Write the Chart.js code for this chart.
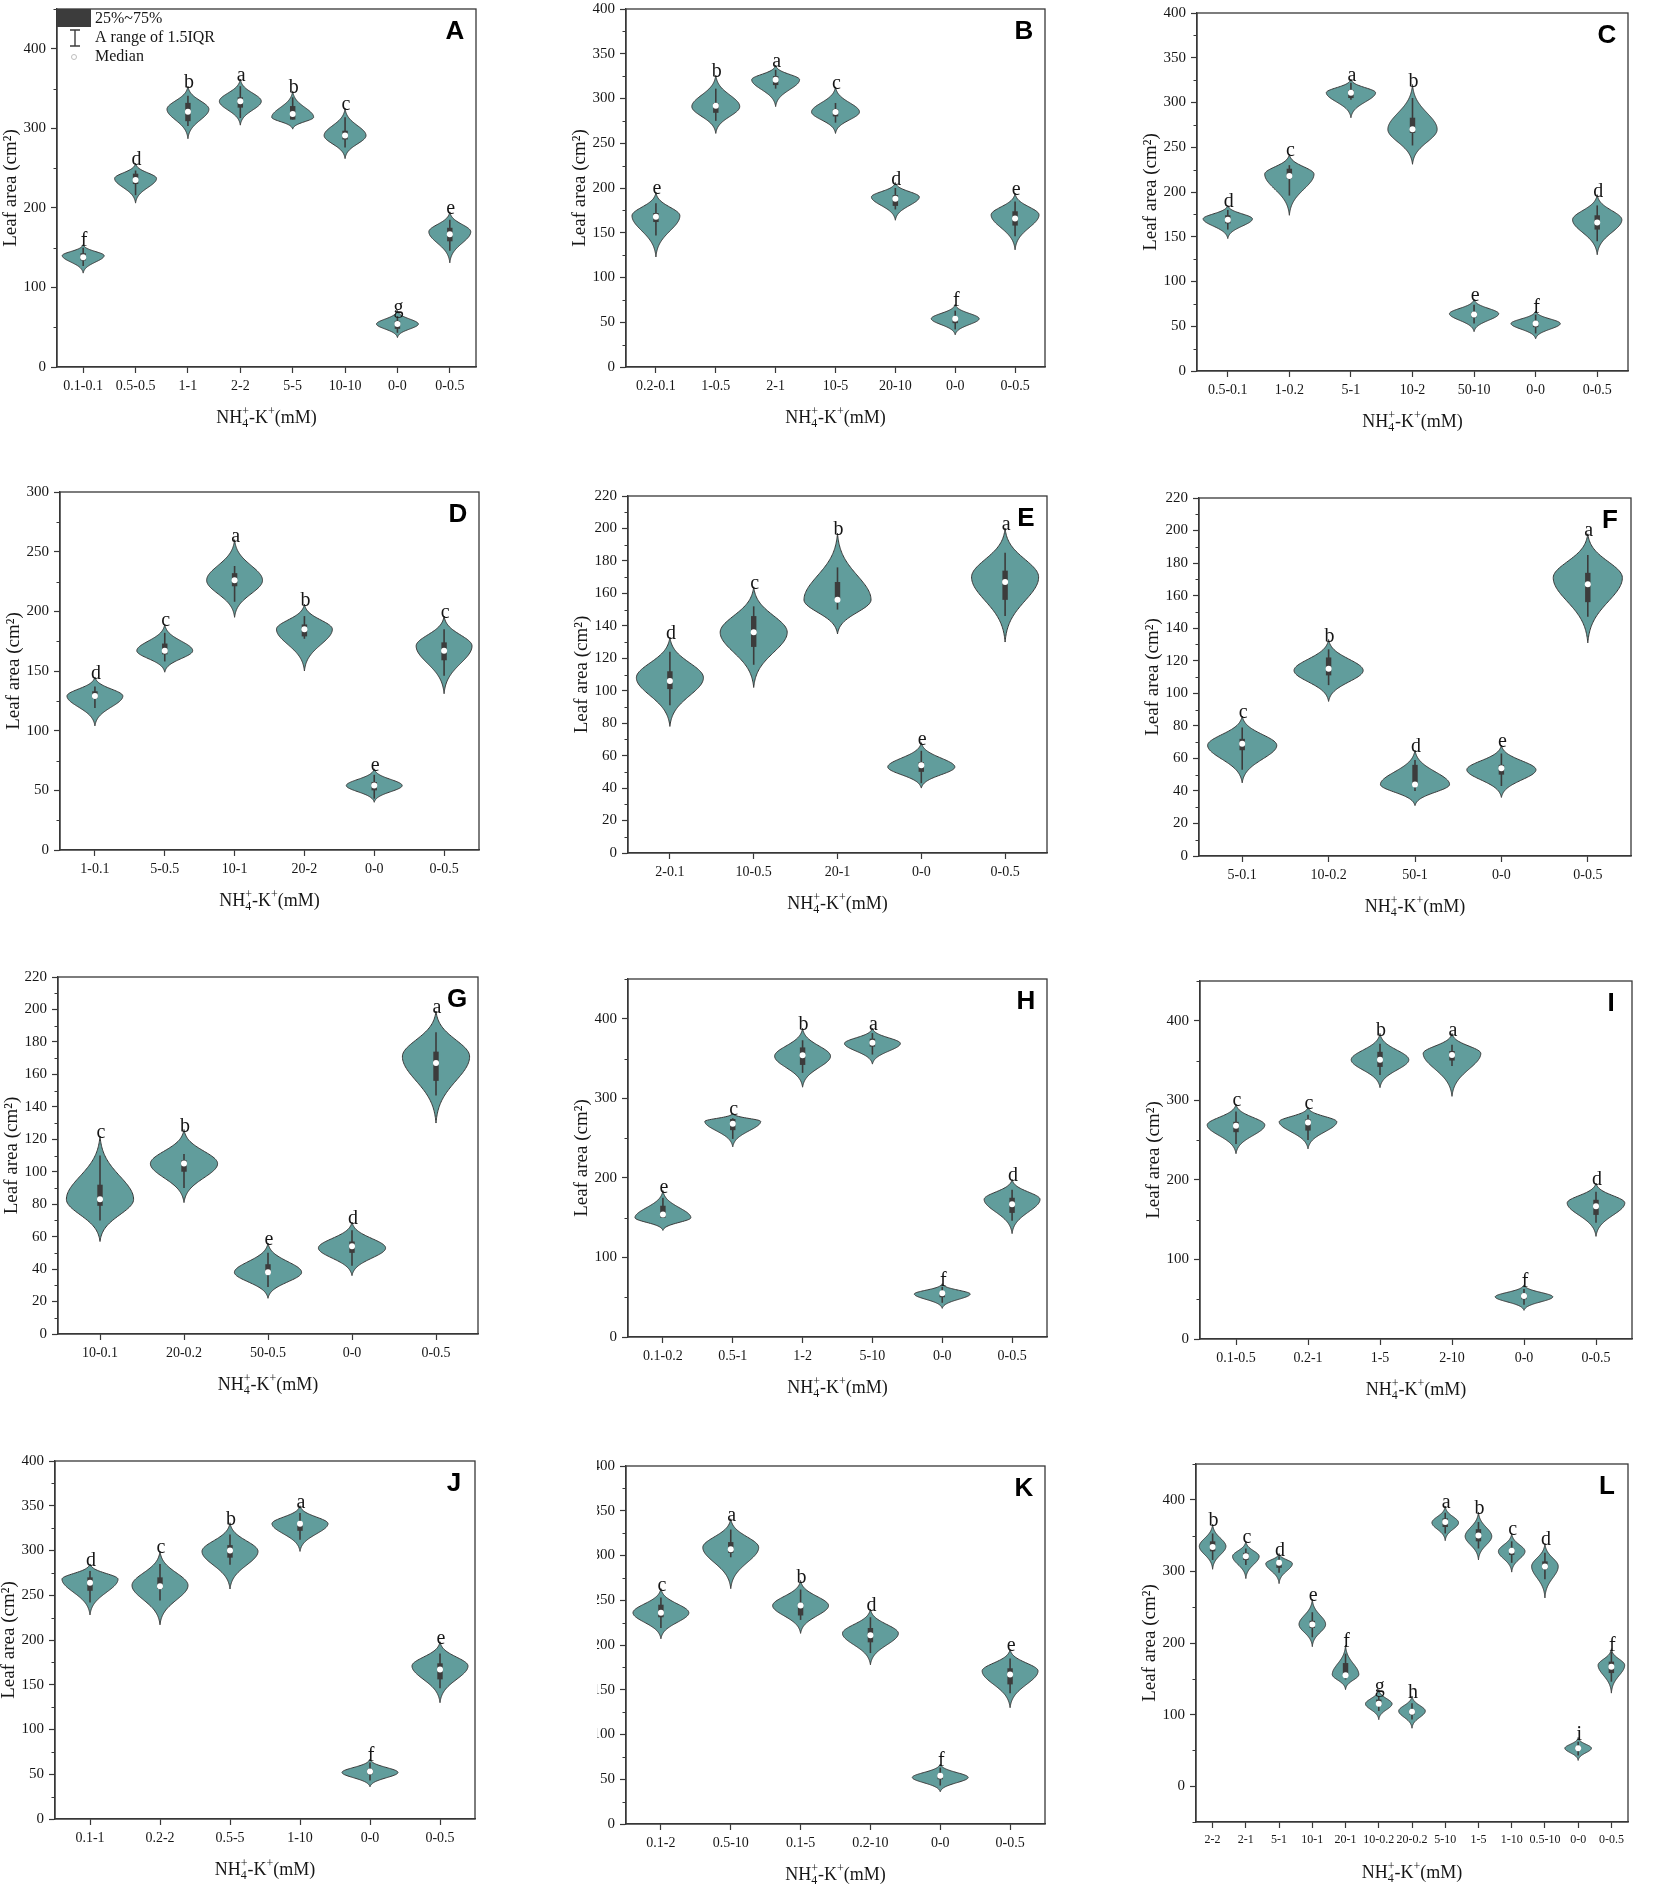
<!DOCTYPE html>
<html>
<head>
<meta charset="utf-8">
<script src="https://cdn.jsdelivr.net/npm/chart.js@4.4.1/dist/chart.umd.min.js"></script>
<style>
  html, body { margin: 0; padding: 0; background: #fff; }
  #fig { position: relative; width: 1654px; height: 1884px; overflow: hidden; background: #fff; }
  #fig canvas { position: absolute; }
</style>
</head>
<body>
<div id="fig"></div>
<script>
// ---- data (leaf area, cm2) ----
// violin = [tail low, widest point, tail high], box = [q1, q3], whisk = [low, high]
const catsA = ['0.1-0.1', '0.5-0.5', '1-1', '2-2', '5-5', '10-10', '0-0', '0-0.5'];
const medA = [138, 235, 321, 334, 318, 291, 54, 167];
const boxA = [[134, 143], [230, 243], [309, 332], [326, 339], [311, 328], [286, 297], [48, 58], [158, 175]];
const whiskA = [[127, 150], [216, 247], [303, 341], [313, 353], [311, 339], [276, 314], [43, 64], [146, 185]];
const violinA = [[118, 140, 154], [206, 237, 256], [287, 324, 353], [304, 334, 362], [299, 314, 347], [262, 291, 325], [37, 54, 71], [131, 170, 195]];
const letA = ['f', 'd', 'b', 'a', 'b', 'c', 'g', 'e'];

const catsB = ['0.2-0.1', '1-0.5', '2-1', '10-5', '20-10', '0-0', '0-0.5'];
const medB = [168, 292, 321, 285, 188, 54, 166];
const boxB = [[162, 172], [284, 295], [315, 325], [280, 288], [180, 192], [49, 56], [158, 174]];
const whiskB = [[147, 183], [275, 311], [311, 332], [273, 295], [176, 200], [42, 63], [146, 185]];
const violinB = [[123, 169, 195], [261, 291, 326], [291, 321, 337], [261, 285, 313], [164, 190, 206], [36, 54, 70], [131, 170, 194]];
const letB = ['e', 'b', 'a', 'c', 'd', 'f', 'e'];

const catsC = ['0.5-0.1', '1-0.2', '5-1', '10-2', '50-10', '0-0', '0-0.5'];
const medC = [169, 218, 311, 270, 63, 53, 166];
const boxC = [[165, 174], [215, 226], [305, 314], [266, 283], [60, 66], [49, 56], [158, 174]];
const whiskC = [[158, 180], [196, 230], [303, 322], [252, 305], [53, 74], [42, 63], [145, 185]];
const violinC = [[148, 170, 185], [174, 220, 242], [283, 311, 326], [231, 270, 320], [44, 64, 80], [36, 53, 67], [130, 169, 197]];
const letC = ['d', 'c', 'a', 'b', 'e', 'f', 'd'];

const catsD = ['1-0.1', '5-0.5', '10-1', '20-2', '0-0', '0-0.5'];
const medD = [129, 167, 226, 185, 54, 167];
const boxD = [[127, 133], [164, 173], [221, 232], [179, 189], [50, 57], [159, 174]];
const whiskD = [[119, 137], [158, 182], [208, 238], [177, 196], [43, 63], [146, 185]];
const violinD = [[104, 129, 145], [149, 167, 189], [195, 226, 260], [150, 185, 206], [40, 54, 68], [131, 171, 196]];
const letD = ['d', 'c', 'a', 'b', 'e', 'c'];

const catsE = ['2-0.1', '10-0.5', '20-1', '0-0', '0-0.5'];
const medE = [106, 136, 156, 54, 167];
const boxE = [[101, 112], [127, 146], [156, 167], [50, 56], [156, 174]];
const whiskE = [[91, 124], [116, 152], [150, 176], [43, 63], [146, 185]];
const violinE = [[78, 108, 133], [102, 136, 164], [135, 156, 197], [40, 53, 68], [130, 170, 200]];
const letE = ['d', 'c', 'b', 'e', 'a'];

const catsF = ['5-0.1', '10-0.2', '50-1', '0-0', '0-0.5'];
const medF = [69, 115, 44, 54, 167];
const boxF = [[65, 72], [111, 122], [43, 56], [50, 56], [156, 174]];
const whiskF = [[53, 79], [105, 127], [40, 59], [43, 63], [147, 185]];
const violinF = [[45, 68, 86], [95, 114, 133], [31, 44, 65], [36, 53, 68], [131, 171, 198]];
const letF = ['c', 'b', 'd', 'e', 'a'];

const catsG = ['10-0.1', '20-0.2', '50-0.5', '0-0', '0-0.5'];
const medG = [83, 105, 38, 54, 167];
const boxG = [[79, 92], [100, 107], [37, 43], [50, 57], [156, 174]];
const whiskG = [[70, 110], [90, 111], [29, 50], [42, 64], [147, 186]];
const violinG = [[57, 83, 122], [81, 105, 126], [22, 38, 56], [36, 53, 69], [130, 171, 199]];
const letG = ['c', 'b', 'e', 'd', 'a'];

const catsH = ['0.1-0.2', '0.5-1', '1-2', '5-10', '0-0', '0-0.5'];
const medH = [154, 268, 354, 370, 55, 167];
const boxH = [[150, 165], [260, 274], [342, 364], [365, 375], [50, 57], [156, 175]];
const whiskH = [[150, 175], [249, 275], [332, 373], [355, 382], [43, 63], [146, 185]];
const violinH = [[134, 150, 184], [239, 271, 281], [314, 353, 388], [343, 369, 388], [36, 54, 67], [130, 173, 198]];
const letH = ['e', 'c', 'b', 'a', 'f', 'd'];

const catsI = ['0.1-0.5', '0.2-1', '1-5', '2-10', '0-0', '0-0.5'];
const medI = [268, 272, 351, 357, 54, 167];
const boxI = [[260, 273], [262, 276], [342, 361], [350, 362], [50, 57], [156, 175]];
const whiskI = [[245, 286], [250, 282], [332, 371], [343, 370], [43, 63], [146, 185]];
const violinI = [[233, 269, 295], [239, 273, 291], [316, 351, 384], [305, 359, 384], [36, 53, 68], [129, 171, 196]];
const letI = ['c', 'c', 'b', 'a', 'f', 'd'];

const catsJ = ['0.1-1', '0.2-2', '0.5-5', '1-10', '0-0', '0-0.5'];
const medJ = [264, 260, 300, 330, 53, 167];
const boxJ = [[255, 270], [257, 270], [292, 306], [322, 331], [50, 56], [156, 174]];
const whiskJ = [[242, 277], [244, 285], [284, 318], [312, 342], [43, 63], [146, 185]];
const violinJ = [[228, 268, 285], [217, 261, 299], [257, 299, 331], [299, 330, 350], [36, 52, 67], [130, 171, 198]];
const letJ = ['d', 'c', 'b', 'a', 'f', 'e'];

const catsK = ['0.1-2', '0.5-10', '0.1-5', '0.2-10', '0-0', '0-0.5'];
const medK = [236, 307, 244, 211, 54, 167];
const boxK = [[231, 245], [303, 315], [233, 247], [203, 219], [50, 56], [156, 174]];
const whiskK = [[219, 253], [298, 329], [228, 262], [191, 231], [43, 63], [146, 185]];
const violinK = [[207, 236, 263], [263, 309, 341], [213, 244, 272], [178, 213, 240], [36, 52, 67], [130, 171, 195]];
const letK = ['c', 'a', 'b', 'd', 'f', 'e'];

const catsL = ['2-2', '2-1', '5-1', '10-1', '20-1', '10-0.2', '20-0.2', '5-10', '1-5', '1-10', '0.5-10', '0-0', '0-0.5'];
const medL = [334, 321, 312, 226, 155, 115, 104, 369, 350, 329, 307, 53, 167];
const boxL = [[328, 342], [316, 326], [305, 314], [221, 231], [156, 172], [112, 121], [100, 107], [362, 374], [342, 359], [323, 332], [303, 314], [50, 56], [158, 174]];
const whiskL = [[316, 353], [309, 332], [298, 321], [208, 243], [149, 185], [105, 126], [93, 116], [353, 382], [332, 369], [312, 342], [289, 326], [43, 62], [146, 188]];
const violinL = [[303, 335, 366], [290, 321, 342], [283, 311, 325], [195, 226, 261], [135, 156, 197], [93, 115, 135], [81, 105, 126], [343, 368, 391], [316, 349, 383], [299, 328, 353], [263, 307, 339], [36, 53, 68], [130, 169, 192]];
const letL = ['b', 'c', 'd', 'e', 'f', 'g', 'h', 'a', 'b', 'c', 'd', 'i', 'f'];

// ---- look ----
const FILL = '#619d9c';
const EDGE = '#383838';
const DARK = '#3c3c3c';
const INK = '#161616';
const SERIF = '"Liberation Serif", "Times New Roman", serif';
const SANS = '"Liberation Sans", Arial, sans-serif';

// plot area of each panel on the page: [left, top, right, bottom]
const panels = [
  { name: 'A', cats: catsA, med: medA, box: boxA, whisk: whiskA, violin: violinA, letters: letA, area: [57, 5, 476, 367], yMin: 0, yMax: 450, major: 100, minor: 50, legend: true },
  { name: 'B', cats: catsB, med: medB, box: boxB, whisk: whiskB, violin: violinB, letters: letB, area: [626, 5, 1045, 367], yMin: 0, yMax: 400, major: 50, minor: 25 },
  { name: 'C', cats: catsC, med: medC, box: boxC, whisk: whiskC, violin: violinC, letters: letC, area: [1197, 9, 1628, 371], yMin: 0, yMax: 400, major: 50, minor: 25 },
  { name: 'D', cats: catsD, med: medD, box: boxD, whisk: whiskD, violin: violinD, letters: letD, area: [60, 488, 479, 850], yMin: 0, yMax: 300, major: 50, minor: 25 },
  { name: 'E', cats: catsE, med: medE, box: boxE, whisk: whiskE, violin: violinE, letters: letE, area: [628, 492, 1047, 853], yMin: 0, yMax: 220, major: 20, minor: 10 },
  { name: 'F', cats: catsF, med: medF, box: boxF, whisk: whiskF, violin: violinF, letters: letF, area: [1199, 494, 1631, 856], yMin: 0, yMax: 220, major: 20, minor: 10 },
  { name: 'G', cats: catsG, med: medG, box: boxG, whisk: whiskG, violin: violinG, letters: letG, area: [58, 973, 478, 1334], yMin: 0, yMax: 220, major: 20, minor: 10 },
  { name: 'H', cats: catsH, med: medH, box: boxH, whisk: whiskH, violin: violinH, letters: letH, area: [628, 975, 1047, 1337], yMin: 0, yMax: 450, major: 100, minor: 50 },
  { name: 'I', cats: catsI, med: medI, box: boxI, whisk: whiskI, violin: violinI, letters: letI, area: [1200, 977, 1632, 1339], yMin: 0, yMax: 450, major: 100, minor: 50 },
  { name: 'J', cats: catsJ, med: medJ, box: boxJ, whisk: whiskJ, violin: violinJ, letters: letJ, area: [55, 1457, 475, 1819], yMin: 0, yMax: 400, major: 50, minor: 25 },
  { name: 'K', cats: catsK, med: medK, box: boxK, whisk: whiskK, violin: violinK, letters: letK, area: [626, 1462, 1045, 1824], yMin: 0, yMax: 400, major: 50, minor: 25, yAxisW: 29, noTitle: true },
  { name: 'L', cats: catsL, med: medL, box: boxL, whisk: whiskL, violin: violinL, letters: letL, area: [1196, 1460, 1628, 1822], yMin: -50, yMax: 450, major: 100, minor: 50, xFont: 12 }
];

// relative half width of a violin at value v (1 at the widest point, 0 at the tips)
function spread(v, lo, mode, hi) {
  const u = v >= mode ? (v - mode) / (hi - mode) : (mode - v) / (mode - lo);
  const k = 3.8;
  return Math.max(0, (Math.exp(-k * u * u) - Math.exp(-k)) / (1 - Math.exp(-k)));
}

function drawXTitle(ctx, cx, baseY) {
  const segs = [
    { t: 'NH', s: 18, dy: 0 },
    { t: '4', s: 12, dy: 4, stack: true },
    { t: '+', s: 12, dy: -8 },
    { t: '-K', s: 18, dy: 0 },
    { t: '+', s: 12, dy: -8 },
    { t: '(mM)', s: 18, dy: 0 }
  ];
  let total = 0;
  segs.forEach(g => {
    ctx.font = g.s + 'px ' + SERIF;
    g.w = ctx.measureText(g.t).width;
    if (!g.stack) total += g.w;
  });
  let x = cx - total / 2;
  ctx.fillStyle = INK;
  ctx.textAlign = 'left';
  ctx.textBaseline = 'alphabetic';
  segs.forEach(g => {
    ctx.font = g.s + 'px ' + SERIF;
    ctx.fillText(g.t, x, baseY + g.dy);
    if (!g.stack) x += g.w;
  });
}

function makeViolinPlugin(p) {
  return {
    id: 'violin' + p.name,
    afterDatasetsDraw(chart) {
      const ctx = chart.ctx;
      const xs = chart.scales.x;
      const ys = chart.scales.y;
      const pts = chart.getDatasetMeta(0).data;
      const half = 0.4 * Math.abs(xs.getPixelForValue(1) - xs.getPixelForValue(0));
      ctx.save();
      p.violin.forEach((v, i) => {
        const [lo, mode, hi] = v;
        const cx = pts[i].x;
        const steps = 80;
        const prof = [];
        for (let s = 0; s <= steps; s++) {
          const val = lo + (hi - lo) * s / steps;
          prof.push([ys.getPixelForValue(val), half * spread(val, lo, mode, hi)]);
        }
        ctx.beginPath();
        prof.forEach(([py, w], k) => (k ? ctx.lineTo(cx + w, py) : ctx.moveTo(cx + w, py)));
        for (let k = prof.length - 1; k >= 0; k--) ctx.lineTo(cx - prof[k][1], prof[k][0]);
        ctx.closePath();
        ctx.fillStyle = FILL;
        ctx.fill();
        ctx.lineWidth = 1;
        ctx.strokeStyle = EDGE;
        ctx.stroke();

        // 1.5 IQR whisker
        ctx.beginPath();
        ctx.moveTo(cx, ys.getPixelForValue(p.whisk[i][0]));
        ctx.lineTo(cx, ys.getPixelForValue(p.whisk[i][1]));
        ctx.lineWidth = 1.6;
        ctx.strokeStyle = DARK;
        ctx.stroke();

        // 25%~75% box
        const yq1 = ys.getPixelForValue(p.box[i][0]);
        const yq3 = ys.getPixelForValue(p.box[i][1]);
        ctx.fillStyle = DARK;
        ctx.fillRect(cx - 2.7, yq3, 5.4, yq1 - yq3);

        // median
        ctx.beginPath();
        ctx.arc(cx, ys.getPixelForValue(p.med[i]), 3, 0, Math.PI * 2);
        ctx.fillStyle = '#ffffff';
        ctx.fill();

        // significance letter
        ctx.font = '20px ' + SERIF;
        ctx.fillStyle = INK;
        ctx.textAlign = 'center';
        ctx.textBaseline = 'alphabetic';
        ctx.fillText(p.letters[i], cx + 1, ys.getPixelForValue(hi) + 2);
      });
      ctx.restore();
    },
    afterDraw(chart) {
      const ctx = chart.ctx;
      const ca = chart.chartArea;
      const ys = chart.scales.y;
      ctx.save();
      // frame
      ctx.lineWidth = 1.3;
      ctx.strokeStyle = EDGE;
      ctx.strokeRect(ca.left, ca.top, ca.right - ca.left, ca.bottom - ca.top);
      // minor ticks
      ctx.lineWidth = 1;
      ys.ticks.forEach(t => {
        if (t.value % p.major !== 0) {
          const py = Math.round(ys.getPixelForValue(t.value)) + 0.5;
          ctx.beginPath();
          ctx.moveTo(ca.left, py);
          ctx.lineTo(ca.left - 3.5, py);
          ctx.stroke();
        }
      });
      // x title
      drawXTitle(ctx, (ca.left + ca.right) / 2, ca.bottom + 56);
      // panel letter
      ctx.font = 'bold 26px ' + SANS;
      ctx.fillStyle = '#000';
      ctx.textAlign = 'center';
      ctx.textBaseline = 'middle';
      ctx.fillText(p.name, ca.right - 21, ca.top + 23);
      // legend of panel A
      if (p.legend) {
        const lx = ca.left, ly = ca.top;
        ctx.fillStyle = DARK;
        ctx.fillRect(lx, ly, 34, 18);
        ctx.strokeStyle = DARK;
        ctx.lineWidth = 1.4;
        ctx.beginPath();
        ctx.moveTo(lx + 18, ly + 21); ctx.lineTo(lx + 18, ly + 37);
        ctx.moveTo(lx + 13, ly + 21); ctx.lineTo(lx + 23, ly + 21);
        ctx.moveTo(lx + 13, ly + 37); ctx.lineTo(lx + 23, ly + 37);
        ctx.stroke();
        ctx.beginPath();
        ctx.arc(lx + 17, ly + 48, 2.5, 0, Math.PI * 2);
        ctx.fillStyle = '#fff';
        ctx.fill();
        ctx.strokeStyle = '#bdbdbd';
        ctx.lineWidth = 1;
        ctx.stroke();
        ctx.font = '16px ' + SERIF;
        ctx.fillStyle = INK;
        ctx.textAlign = 'left';
        ctx.textBaseline = 'alphabetic';
        ctx.fillText('25%~75%', lx + 38, ly + 14);
        ctx.fillText('A range of 1.5IQR', lx + 38, ly + 33);
        ctx.fillText('Median', lx + 38, ly + 52);
      }
      ctx.restore();
    }
  };
}

const fig = document.getElementById('fig');
const PAD_TOP = 10, PAD_RIGHT = 8, X_AXIS_H = 64;

panels.forEach(p => {
  const [l, t, r, b] = p.area;
  const yW = p.yAxisW || 57;
  const left = l - yW;
  const top = t - PAD_TOP;
  const w = r + PAD_RIGHT - left;
  const h = b + X_AXIS_H - top;
  const cv = document.createElement('canvas');
  cv.width = w;
  cv.height = h;
  cv.style.left = left + 'px';
  cv.style.top = top + 'px';
  cv.style.width = w + 'px';
  cv.style.height = h + 'px';
  fig.appendChild(cv);

  new Chart(cv, {
    type: 'line',
    data: {
      labels: p.cats,
      datasets: [{ data: p.med, showLine: false, pointRadius: 0, pointHoverRadius: 0 }]
    },
    options: {
      responsive: false,
      animation: false,
      devicePixelRatio: 1,
      events: [],
      layout: { padding: { top: PAD_TOP, right: PAD_RIGHT, left: 0, bottom: 0 } },
      plugins: { legend: { display: false }, tooltip: { enabled: false } },
      scales: {
        x: {
          type: 'category',
          offset: true,
          grid: { display: true, drawOnChartArea: false, drawTicks: true, tickLength: 6, tickColor: EDGE, tickWidth: 1.2 },
          border: { display: true, color: EDGE, width: 1.3 },
          ticks: { color: INK, font: { family: SERIF, size: p.xFont || 14 }, padding: 5, maxRotation: 0, autoSkip: false },
          afterFit: s => { s.height = X_AXIS_H; }
        },
        y: {
          type: 'linear',
          min: p.yMin,
          max: p.yMax,
          grid: {
            display: true, drawOnChartArea: false, drawTicks: true, tickLength: 6, tickWidth: 1.2,
            tickColor: c => (c.tick && c.tick.value % p.major === 0 ? EDGE : 'rgba(0,0,0,0)')
          },
          border: { display: true, color: EDGE, width: 1.3 },
          ticks: {
            stepSize: p.minor,
            autoSkip: false,
            color: INK,
            font: { family: SERIF, size: 15 },
            padding: 5,
            callback: v => (v % p.major === 0 ? String(v) : '')
          },
          title: {
            display: !p.noTitle,
            text: 'Leaf area (cm²)',
            color: INK,
            font: { family: SERIF, size: 19 },
            padding: { top: 0, bottom: 0 }
          },
          afterFit: s => { s.width = yW; }
        }
      }
    },
    plugins: [makeViolinPlugin(p)]
  });
});
</script>
</body>
</html>
